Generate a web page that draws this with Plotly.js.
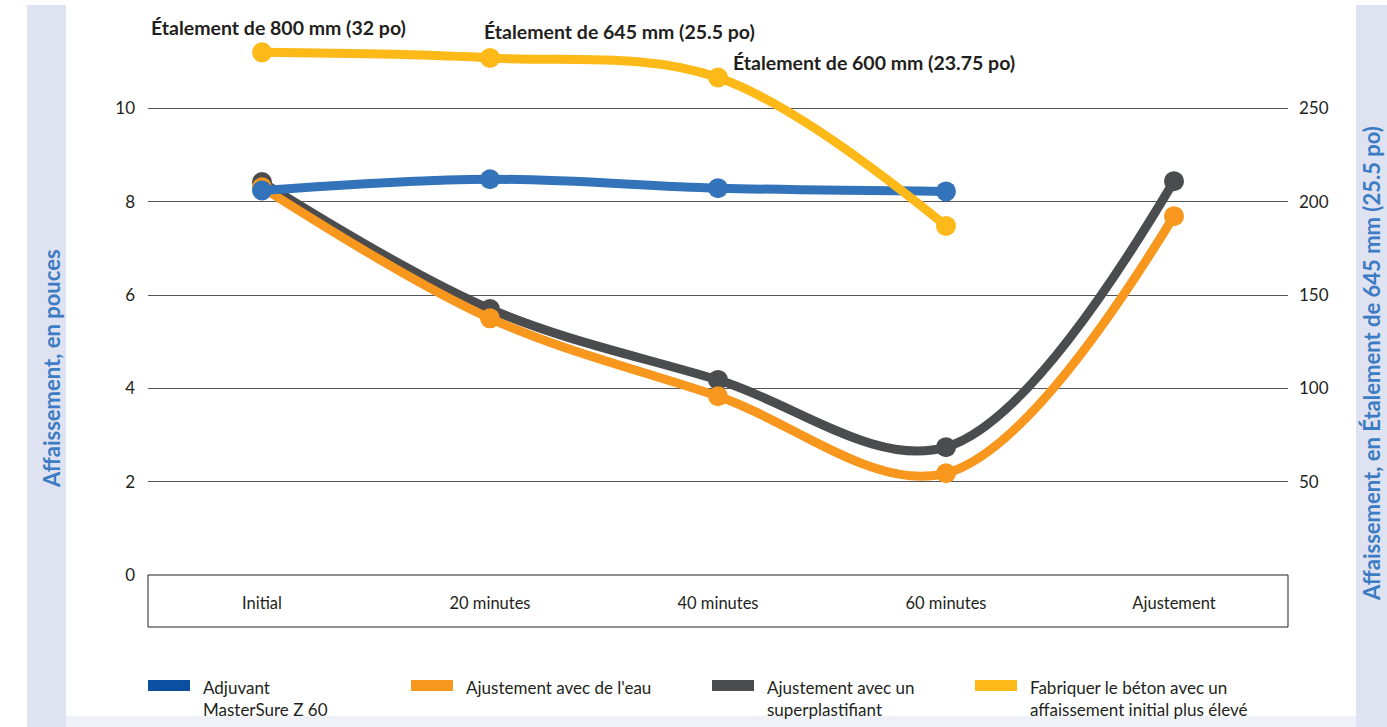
<!DOCTYPE html>
<html>
<head>
<meta charset="utf-8">
<script src="https://cdn.plot.ly/plotly-3.0.1.min.js"></script>
<style>html,body{margin:0;padding:0;background:#fff;}#chart{width:1387px;height:727px;}</style>
</head>
<body>
<div id="chart"></div>
<script>
// ---- data ----
const categories = ["Initial", "20 minutes", "40 minutes", "60 minutes", "Ajustement"];
const seriesNames = [
  "Adjuvant<br>MasterSure Z 60",
  "Ajustement avec de l'eau",
  "Ajustement avec un<br>superplastifiant",
  "Fabriquer le béton avec un<br>affaissement initial plus élevé"
];
const masterSure = [8.24, 8.48, 8.29, 8.22, null];          // pouces
const eau = [8.31, 5.50, 3.83, 2.18, 7.69];                  // pouces
const superplast = [8.42, 5.70, 4.18, 2.74, 8.44];           // pouces
const affInitial = [280, 277, 266.5, 187];                   // axe droit
const leftTicks = [0, 2, 4, 6, 8, 10];
const rightTicks = [50, 100, 150, 200, 250];
const spreadLabels = ["Étalement de 800 mm (32 po)", "Étalement de 645 mm (25.5 po)", "Étalement de 600 mm (23.75 po)"];
const leftTitle = "Affaissement, en pouces";
const rightTitle = "Affaissement, en Étalement de 645 mm (25.5 po)";

// ---- styles ----
const lineColors = ["#3373ba", "#f7971d", "#4b4c4e", "#fcb918"];
const swatchColors = ["#0b4fa0", "#f7971d", "#4b4c4e", "#fcb918"];
const txt = "#231f20";
const titleBlue = "#3b7cc4";
const font = "Lato, 'Open Sans', sans-serif";

// paper helpers (plot area: x 148..1288, y 15..575)
const px = v => (v - 148) / 1140;
const py = v => (575 - v) / 560;

function tr(y, i, axis) {
  return {
    x: categories.slice(0, y.length), y: y, yaxis: axis || "y",
    type: "scatter", mode: "lines+markers", showlegend: false, hoverinfo: "skip",
    line: {color: lineColors[i], width: 9, shape: "spline", smoothing: 1},
    marker: {color: lineColors[i], size: 20}
  };
}
const data = [tr(superplast, 2), tr(eau, 1), tr(masterSure, 0), tr(affInitial, 3, "y2")];

const shapes = [
  {type: "rect", xref: "paper", yref: "paper", x0: px(27), x1: px(66), y0: py(727), y1: py(5), fillcolor: "#dfe2f0", line: {width: 0}, layer: "below"},
  {type: "rect", xref: "paper", yref: "paper", x0: px(1356), x1: px(1387), y0: py(727), y1: py(5), fillcolor: "#dfe2f0", line: {width: 0}, layer: "below"},
  {type: "rect", xref: "paper", yref: "paper", x0: px(66), x1: px(1356), y0: py(727), y1: py(716), fillcolor: "#eef1f8", line: {width: 0}, layer: "below"},
  {type: "rect", xref: "paper", yref: "paper", x0: 0, x1: 1, y0: py(627), y1: 0, line: {color: txt, width: 1}, fillcolor: "rgba(0,0,0,0)"}
];
const legendX = [148, 411, 712, 975];
const annotations = [];
seriesNames.forEach((n, i) => {
  shapes.push({type: "rect", xref: "paper", yref: "paper", x0: px(legendX[i]), x1: px(legendX[i] + 42),
    y0: py(691), y1: py(680), fillcolor: swatchColors[i], line: {width: 0}});
  n.split("<br>").forEach((line, k) => {
    annotations.push({xref: "paper", yref: "paper", x: px(legendX[i] + 53), y: py(687 + 22 * k),
      xanchor: "left", yanchor: "middle", showarrow: false, text: line,
      font: {family: font, size: 17, color: txt}});
  });
});
const spreadPos = [[149, 27], [482, 31], [731, 62]];
spreadLabels.forEach((t, i) => {
  annotations.push({xref: "paper", yref: "paper", x: px(spreadPos[i][0]), y: py(spreadPos[i][1]),
    xanchor: "left", yanchor: "middle", showarrow: false, text: "<b>" + t + "</b>",
    font: {family: font, size: 19.5, color: txt}});
});
// axis titles (rotated)
annotations.push({xref: "paper", yref: "paper", x: px(51), y: py(369), xanchor: "center", yanchor: "middle",
  textangle: -90, showarrow: false, text: "<b>" + leftTitle + "</b>", font: {family: font, size: 22, color: titleBlue}});
annotations.push({xref: "paper", yref: "paper", x: px(1371), y: py(363), xanchor: "center", yanchor: "middle",
  textangle: -90, showarrow: false, text: "<b>" + rightTitle + "</b>", font: {family: font, size: 22, color: titleBlue}});

const layout = {
  width: 1387, height: 727,
  margin: {l: 148, r: 99, t: 15, b: 152},
  paper_bgcolor: "#ffffff", plot_bgcolor: "rgba(0,0,0,0)",
  font: {family: font, color: txt},
  xaxis: {type: "category", categoryarray: categories, range: [-0.5, 4.5], showgrid: false, zeroline: false,
    showline: false, ticks: "", ticklabelstandoff: 16, tickfont: {size: 16.5, color: txt}, fixedrange: true},
  yaxis: {range: [0, 12], tickvals: leftTicks, ticktext: leftTicks.map(String), showgrid: true, gridcolor: "#555", gridwidth: 1,
    zeroline: false, showline: false, ticks: "", ticklabelstandoff: 12, tickfont: {size: 17, color: txt}},
  yaxis2: {overlaying: "y", side: "right", range: [0, 300], tickvals: rightTicks, ticktext: rightTicks.map(String), showgrid: false,
    zeroline: false, showline: false, ticks: "", ticklabelstandoff: 10, tickfont: {size: 17, color: txt}},
  shapes: shapes, annotations: annotations
};
Plotly.newPlot("chart", data, layout, {displayModeBar: false, staticPlot: true});
</script>
</body>
</html>
